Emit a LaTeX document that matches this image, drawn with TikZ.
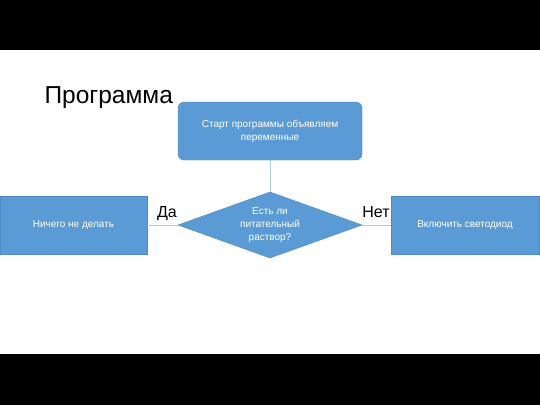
\documentclass[tikz,border=0pt]{standalone}
\usepackage{fontspec}
\setmainfont{Liberation Sans}
\usetikzlibrary{shapes.geometric,positioning}
\definecolor{boxblue}{HTML}{5B9BD5}
\definecolor{boxedge}{HTML}{4F88C2}
\definecolor{linkblue}{HTML}{A9CBEA}

\begin{document}
\begin{tikzpicture}[x=1pt,y=-1pt,
  block/.style={draw=boxedge, fill=boxblue, text=white, font=\fontsize{10}{13}\selectfont, align=center, inner sep=0pt, outer sep=0pt},
  link/.style={draw=linkblue, line width=0.9pt},
  answer/.style={font=\fontsize{16}{19}\selectfont, anchor=base}]

  \fill[white] (0,0) rectangle (540,405);
  \fill[black] (0,0) rectangle (540,50);
  \fill[black] (0,354) rectangle (540,405);
  \useasboundingbox (0,0) rectangle (540,405);

  \node[anchor=base west, font=\fontsize{24.5}{29}\selectfont] (title) at (41,103) {Программа};

  \node[block, rounded corners=6pt, minimum width=184pt, minimum height=58pt] (start) at (270,131) {Старт программы объявляем\\переменные};
  \node[block, diamond, aspect=2.8, minimum width=184pt, minimum height=66pt] (ask) at (270,225) {Есть ли\\питательный\\раствор?};
  \node[block, minimum width=147pt, minimum height=58pt] (nothing) at (73.5,225) {Ничего не делать};
  \node[block, minimum width=148pt, minimum height=58pt] (led) at (465,225) {Включить светодиод};

  \node[answer] (yes) at (167,217) {Да};
  \node[answer] (no) at (376,217) {Нет};

  \draw[link] (start) -- (ask);
  \draw[link] (ask) -- (nothing);
  \draw[link] (ask) -- (led);
\end{tikzpicture}
\end{document}
